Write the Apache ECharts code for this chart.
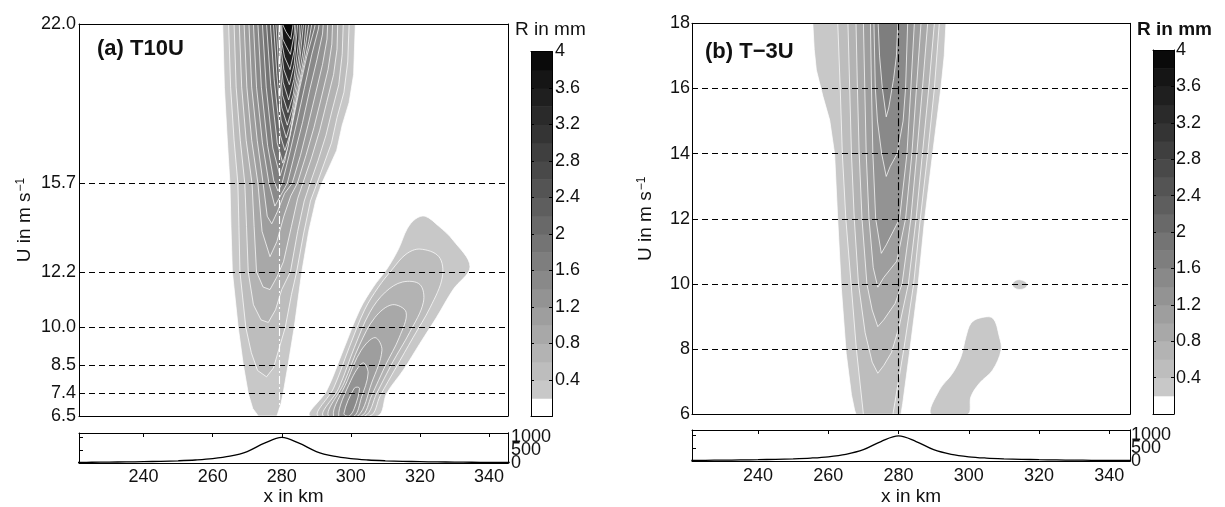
<!DOCTYPE html>
<html>
<head>
<meta charset="utf-8">
<script src="https://cdn.jsdelivr.net/npm/echarts@6/dist/echarts.min.js"></script>
<style>
  html, body { margin: 0; padding: 0; background: #ffffff; }
  #chart { width: 1225px; height: 507px; }
</style>
</head>
<body>
<div id="chart"></div>
<script>
// ---------- data ----------
const xTicks = [240, 260, 280, 300, 320, 340];
const uTicksA = [6.5, 7.4, 8.5, 10.0, 12.2, 15.7, 22.0];
const uDashedA = [6.5, 7.4, 8.5, 10.0, 12.2, 15.7];
const uDashedB = [8, 10, 12, 14, 16];
const ridgeA = 279.4;
const ridgeB = 280;
const rainLevels = [0, 0.2, 0.4, 0.6, 0.8, 1.0, 1.2, 1.4, 1.6, 1.8, 2.0, 2.2, 2.4, 2.6, 2.8, 3.0, 3.2, 3.4, 3.6, 3.8, 4.0];
const barTicks = [0.4, 0.8, 1.2, 1.6, 2, 2.4, 2.8, 3.2, 3.6, 4];
const heightTicksOuter = [0, 1000];
const heightTicksInner = [500];

// terrain profile (x in km, height in m)
const terrainX = [221, 225, 230, 235, 240, 245, 250, 255, 260, 265, 270, 275, 280, 285, 290, 295, 300, 305, 310, 315, 320, 325, 330, 335, 340, 346];
const terrainH = [22, 28, 34, 42, 52, 65, 85, 115, 165, 260, 440, 760, 980, 760, 440, 260, 165, 115, 85, 65, 52, 42, 34, 28, 24, 20];

// rain contours, (a) T10U: [lower level in mm, outline as [x km, U m/s]]
const mainCoreA = [
  [0.2, [[262.9,22],[263.4,19.5],[264.2,17.5],[265.0,15.7],[265.3,14.0],[265.7,12.2],[267.4,10.0],[268.9,8.5],[270.3,7.4],[271.6,6.8],[273.2,6.5],[278.6,6.5],[279.8,7.0],[280.4,7.4],[281.8,8.5],[283.6,10.0],[285.8,12.2],[287.8,13.8],[289.8,15.0],[291.6,15.7],[293.6,16.3],[295.9,17.0],[297.5,18.0],[299.5,18.9],[300.8,20.0],[301.3,22]]],
  [0.4, [[264.6,22],[265.2,19.5],[266.2,17.4],[267.3,15.7],[267.6,14.0],[267.9,12.2],[269.6,10.0],[271.2,9.0],[273.0,8.3],[275.6,8.05],[277.6,8.4],[279.3,9.2],[281.0,10.0],[282.8,11.3],[284.3,12.2],[286.3,13.7],[288.3,15.0],[290.2,15.7],[292.3,16.5],[294.4,17.3],[296.0,18.3],[298.0,19.3],[299.1,20.5],[299.5,22]]],
  [0.6, [[266.2,22],[266.8,19.5],[268.0,17.4],[269.3,15.7],[269.8,14.0],[270.3,12.2],[271.8,10.9],[274.0,10.3],[276.1,10.2],[278.2,10.7],[280.0,11.5],[282.5,12.2],[284.6,13.8],[286.5,15.0],[288.2,15.7],[290.5,16.6],[292.8,17.6],[294.6,18.6],[296.5,19.6],[297.5,20.8],[297.8,22]]],
  [0.8, [[267.7,22],[268.4,19.5],[269.7,17.4],[271.4,15.7],[272.0,14.0],[272.7,12.2],[274.6,11.6],[276.6,11.5],[278.6,12.0],[280.5,12.6],[282.8,14.0],[284.6,15.1],[286.1,15.7],[288.6,16.7],[291.0,17.8],[293.0,18.9],[295.0,20.0],[296.0,21.0],[296.2,22]]],
  [1.0, [[269.1,22],[269.9,19.5],[271.3,17.4],[273.1,15.7],[274.3,13.8],[276.6,12.8],[278.6,13.4],[280.6,14.4],[282.6,15.2],[284.5,15.7],[287.0,16.8],[289.3,17.9],[291.3,19.0],[293.4,20.2],[294.5,21.2],[294.7,22]]],
  [1.2, [[270.5,22],[271.3,19.5],[272.9,17.4],[274.6,15.7],[275.8,14.4],[277.1,14.1],[278.8,14.6],[280.8,15.3],[283.0,15.7],[285.4,16.8],[287.6,18.0],[289.7,19.2],[291.8,20.4],[293.1,21.4],[293.3,22]]],
  [1.4, [[271.8,22],[272.7,19.5],[274.4,17.3],[276.3,15.7],[278.0,14.8],[279.6,15.2],[281.6,15.7],[283.8,16.9],[286.0,18.1],[288.1,19.4],[290.2,20.6],[291.8,21.6],[292.0,22]]],
  [1.6, [[273.1,22],[274.1,19.5],[275.9,17.2],[277.7,15.8],[278.9,15.4],[280.1,15.7],[282.3,16.9],[284.5,18.2],[286.6,19.5],[288.7,20.8],[290.6,21.8],[290.8,22]]],
  [1.8, [[274.4,22],[275.5,19.5],[277.4,17.1],[279.5,16.0],[280.9,16.6],[283.0,18.0],[285.1,19.4],[287.2,20.7],[289.4,21.8],[289.7,22]]],
  [2.0, [[275.6,22],[276.8,19.6],[278.7,17.3],[280.3,16.5],[281.7,17.1],[283.7,18.6],[285.8,20.0],[287.8,21.3],[288.7,22]]],
  [2.2, [[276.7,22],[277.8,19.8],[279.6,17.6],[280.9,17.0],[282.3,17.6],[284.3,19.1],[286.3,20.6],[287.8,22]]],
  [2.4, [[277.6,22],[278.6,20.0],[279.8,18.2],[281.3,17.5],[282.8,18.2],[284.7,19.7],[286.5,21.2],[287.0,22]]],
  [2.6, [[278.3,22],[279.2,20.2],[280.0,18.7],[281.6,18.0],[283.1,18.7],[285.0,20.3],[286.3,22]]],
  [2.8, [[278.9,22],[279.5,20.4],[280.2,19.2],[281.8,18.5],[283.3,19.2],[285.0,20.8],[285.7,22]]],
  [3.0, [[279.3,22],[279.7,20.6],[280.4,19.7],[282.0,19.0],[283.5,19.8],[285.0,21.4],[285.1,22]]],
  [3.2, [[279.6,22],[279.9,20.9],[280.6,20.2],[282.2,19.6],[283.6,20.4],[284.6,22]]],
  [3.4, [[279.8,22],[280.1,21.2],[280.8,20.7],[282.4,20.2],[283.7,21.0],[284.1,22]]],
  [3.6, [[280.0,22],[280.3,21.4],[281.0,21.2],[282.5,20.8],[283.6,21.6],[283.7,22]]],
  [3.8, [[280.2,22],[281.2,21.7],[282.6,21.4],[283.3,22]]]
];
const lowerCellA = [
  [0.2, [[288.2,6.5],[293.0,7.5],[297.8,9.1],[302.6,10.7],[306.5,11.6],[310.4,12.3],[313.8,13.1],[316.3,13.9],[318.8,14.3],[321.5,14.4],[325.5,14.0],[329.6,13.45],[334.5,12.4],[329.6,11.5],[324.8,10.4],[320.0,9.37],[315.2,8.32],[310.4,7.4],[307.7,6.5]]],
  [0.4, [[290.5,6.5],[295.0,7.6],[299.5,9.2],[304.0,10.7],[308.0,11.6],[312.0,12.3],[316.0,12.9],[320.0,13.1],[325.5,12.8],[326.5,12.0],[323.0,10.8],[318.0,9.6],[313.0,8.4],[308.5,7.3],[305.5,6.5]]],
  [0.6, [[292.0,6.5],[296.5,7.6],[301.0,9.2],[305.5,10.6],[310.0,11.4],[315.0,11.8],[320.0,11.7],[321.0,11.0],[317.0,9.8],[312.0,8.6],[307.5,7.4],[304.0,6.5]]],
  [0.8, [[293.5,6.5],[298.0,7.8],[302.5,9.3],[307.0,10.4],[312.0,10.9],[316.0,10.6],[314.0,9.6],[310.0,8.5],[306.0,7.3],[303.0,6.5]]],
  [1.0, [[295.0,6.5],[299.0,7.9],[303.0,9.1],[307.0,9.6],[309.0,9.1],[306.0,7.8],[302.0,6.5]]],
  [1.2, [[296.5,6.5],[300.0,7.9],[303.5,8.6],[305.0,8.2],[303.0,7.2],[301.0,6.5]]],
  [1.4, [[298.0,6.6],[301.0,7.6],[302.5,7.6],[301.0,6.8],[299.5,6.5]]]
];

// rain contours, (b) T-3U
const mainCoreB = [
  [0.2, [[255.6,18],[256.0,17.2],[256.6,16.57],[258.5,15.75],[260.4,15.03],[261.8,14.0],[262.7,11.96],[263.7,9.9],[265.1,7.87],[266.6,6.6],[267.5,6.13],[267.9,6],[280.7,6],[281.2,6.34],[283.1,7.87],[285.5,9.9],[287.4,11.96],[289.7,14.0],[292.1,16.05],[293.0,17.0],[293.5,18]]],
  [0.4, [[262.7,18],[263.4,16],[264.0,14],[265.0,12],[266.5,10],[268.0,8],[270.0,6],[278.4,6],[281.5,8],[284.3,10],[286.2,12],[288.3,14],[290.2,16],[291.6,18]]],
  [0.6, [[265.6,18],[266.1,16],[266.6,14],[267.4,12],[268.6,10],[270.5,8.5],[272.5,7.6],[274.1,7.26],[275.8,7.5],[278.0,7.9],[280.2,8.7],[282.8,10],[285.0,12],[286.8,14],[288.6,16],[290.2,18]]],
  [0.8, [[267.9,18],[268.3,16],[268.8,14],[269.6,12],[271.0,10],[272.5,9.2],[274.1,8.69],[275.8,8.9],[279.0,9.4],[281.0,10],[283.5,12],[285.2,14],[286.8,16],[288.3,18]]],
  [1.0, [[270.0,18],[270.4,16],[270.8,14],[271.6,12],[272.8,10.5],[274.1,9.9],[275.8,10.2],[279.5,10.7],[282.0,12],[283.8,14],[285.1,16],[286.4,18]]],
  [1.2, [[272.0,18],[272.3,16],[272.7,14],[273.5,12],[275.1,10.94],[276.5,11.2],[280.3,12],[282.4,14],[283.5,16],[284.5,18]]],
  [1.4, [[273.0,18],[273.4,16],[274.0,15],[275.2,14],[276.5,13.3],[277.6,13.6],[279.6,14],[281.3,15],[282.0,16],[282.6,18]]],
  [1.6, [[274.2,18],[274.6,17],[275.4,16],[276.5,15.13],[277.2,15.4],[278.6,16.3],[279.4,17],[279.8,18]]]
];
const lowerCellB = [
  [0.2, [[289.3,6],[291.6,6.74],[295.4,7.26],[297.8,7.77],[299.2,8.38],[300.6,8.79],[303.0,8.95],[306.8,8.95],[308.7,8.38],[309.2,7.97],[306.8,7.36],[303.0,6.95],[300.6,6.54],[299.7,6]]]
];
const smallCellB = [
  [0.2, [[312.4,9.98],[313.2,10.1],[314.5,10.13],[315.9,10.08],[316.7,9.97],[315.8,9.86],[314.4,9.83],[313.1,9.87]]]
];

// ---------- styling helpers ----------
const FONT = 'Liberation Sans';
const INK = '#111111';
const xRangeA = [221.3, 345.5];
const xRangeB = [221.2, 345.9];

function shade(lo) {
  if (lo < 0.19) return '#ffffff';
  const g = Math.max(0, Math.round(200 - (lo - 0.2) / 3.6 * 190));
  return 'rgb(' + g + ',' + g + ',' + g + ')';
}

const labelStyle = { fontFamily: FONT, fontSize: 18, color: INK };
const lineBlack = { show: true, lineStyle: { color: '#000', width: 1 } };

function frameX(grid, pos, min, max, extra) {
  return Object.assign({
    type: 'value', gridIndex: grid, position: pos, min: min, max: max, z: 10,
    axisLine: Object.assign({ onZero: false }, lineBlack),
    axisTick: { show: false }, axisLabel: { show: false }, splitLine: { show: false }
  }, extra || {});
}
function frameY(grid, pos, min, max, extra) {
  return Object.assign({
    type: 'value', gridIndex: grid, position: pos, min: min, max: max, z: 10,
    axisLine: Object.assign({ onZero: false }, lineBlack),
    axisTick: { show: false }, axisLabel: { show: false }, splitLine: { show: false }
  }, extra || {});
}

// filled rain bands; each outline is filled with the grey of its level
// and edged with a thin white contour line
function contourSeries(polys, xi, yi, smooth) {
  const sorted = polys.slice().sort((a, b) => a[0] - b[0]);
  return {
    type: 'custom', xAxisIndex: xi, yAxisIndex: yi, silent: true, clip: true, z: 2,
    data: sorted.map(p => p[1][0]),
    renderItem: function (params, api) {
      const c = sorted[params.dataIndex];
      const pts = c[1].map(p => api.coord(p));
      return {
        type: 'polygon',
        shape: { points: pts, smooth: smooth || 0 },
        style: { fill: shade(c[0]), stroke: 'rgba(255,255,255,0.9)', lineWidth: 0.8 }
      };
    }
  };
}

function barSeries(xi, yi) {
  return {
    type: 'custom', xAxisIndex: xi, yAxisIndex: yi, silent: true, z: 2,
    data: rainLevels.slice(0, -1).map(lo => [0.5, lo]),
    renderItem: function (params, api) {
      const lo = rainLevels[params.dataIndex];
      const hi = rainLevels[params.dataIndex + 1];
      const p0 = api.coord([0, hi]);
      const p1 = api.coord([1, lo]);
      return {
        type: 'rect',
        shape: { x: p0[0], y: p0[1], width: p1[0] - p0[0], height: p1[1] - p0[1] + 0.5 },
        style: { fill: shade(lo) }
      };
    }
  };
}

function guideSeries(xi, yi, levels, ridge, ridgeColor) {
  return {
    type: 'line', xAxisIndex: xi, yAxisIndex: yi, data: [], silent: true, z: 5,
    markLine: {
      silent: true, symbol: 'none', animation: false,
      label: { show: false },
      lineStyle: { color: '#000', type: [6, 4], width: 1.2 },
      data: levels.map(v => ({ yAxis: v })).concat([{
        xAxis: ridge,
        lineStyle: { color: ridgeColor, type: [8, 3, 2, 3], width: 1.1 }
      }])
    }
  };
}

function terrainSeries(xi, yi) {
  return {
    type: 'line', xAxisIndex: xi, yAxisIndex: yi, silent: true, smooth: 0.35,
    symbol: 'none', lineStyle: { color: '#000', width: 1.3 },
    data: terrainX.map((x, i) => [x, terrainH[i]])
  };
}

const uName = {
  name: 'U in m s{sup|\u22121}', nameLocation: 'middle',
  nameTextStyle: {
    fontFamily: FONT, fontSize: 19, color: INK,
    rich: { sup: { fontFamily: FONT, fontSize: 12, color: INK, verticalAlign: 'top', padding: [0, 0, 6, 1] } }
  }
};

// the three height labels are packed tighter than their glyph height, so
// the middle one lives on its own axis to keep all of them visible
function heightLabels(values, margin) {
  return Object.assign({
    show: true, customValues: values, hideOverlap: false,
    showMinLabel: true, showMaxLabel: true, margin: margin,
    formatter: v => String(v)
  }, labelStyle);
}

// panel geometry
const grids = [
  { left: 79, top: 24, width: 429, height: 392 },      // (a) rain
  { left: 79, top: 433, width: 429, height: 34 },      // (a) terrain
  { left: 531, top: 51.5, width: 21, height: 365 },    // (a) colour bar
  { left: 692, top: 23.3, width: 438, height: 391 },   // (b) rain
  { left: 692, top: 430, width: 438, height: 32 },     // (b) terrain
  { left: 1153, top: 50, width: 21, height: 364 }      // (b) colour bar
];

const xAxes = [
  frameX(0, 'bottom', xRangeA[0], xRangeA[1]),
  frameX(0, 'top', xRangeA[0], xRangeA[1]),
  frameX(1, 'bottom', xRangeA[0], xRangeA[1], {
    axisLabel: Object.assign({ show: true, customValues: xTicks, margin: 5 }, labelStyle),
    name: 'x in km', nameLocation: 'middle', nameGap: 24,
    nameTextStyle: { fontFamily: FONT, fontSize: 19, color: INK }
  }),
  frameX(1, 'top', xRangeA[0], xRangeA[1], {
    axisTick: { show: true, inside: true, length: 4, customValues: xTicks, lineStyle: { color: '#000' } }
  }),
  frameX(2, 'bottom', 0, 1),
  frameX(2, 'top', 0, 1),

  frameX(3, 'bottom', xRangeB[0], xRangeB[1]),
  frameX(3, 'top', xRangeB[0], xRangeB[1]),
  frameX(4, 'bottom', xRangeB[0], xRangeB[1], {
    axisLabel: Object.assign({ show: true, customValues: xTicks, margin: 6 }, labelStyle),
    name: 'x in km', nameLocation: 'middle', nameGap: 26,
    nameTextStyle: { fontFamily: FONT, fontSize: 19, color: INK }
  }),
  frameX(4, 'top', xRangeB[0], xRangeB[1], {
    axisTick: { show: true, inside: true, length: 4, customValues: xTicks, lineStyle: { color: '#000' } }
  }),
  frameX(5, 'bottom', 0, 1),
  frameX(5, 'top', 0, 1)
];

const yAxes = [
  frameY(0, 'left', 6.5, 22, Object.assign({
    axisLabel: Object.assign({ show: true, customValues: uTicksA, margin: 3, formatter: v => Number(v).toFixed(1) }, labelStyle),
    nameGap: 45
  }, uName)),
  frameY(0, 'right', 6.5, 22),
  frameY(1, 'left', 0, 1150, {
    axisTick: { show: true, inside: true, length: 4, customValues: [500, 1000], lineStyle: { color: '#000' } }
  }),
  frameY(1, 'right', 0, 1150, { axisLabel: heightLabels(heightTicksOuter, 3) }),
  frameY(2, 'left', 0, 4, {
    axisTick: { show: true, inside: true, length: 3, customValues: barTicks, lineStyle: { color: '#000' } }
  }),
  frameY(2, 'right', 0, 4, {
    axisTick: { show: true, inside: true, length: 3, customValues: barTicks, lineStyle: { color: '#000' } },
    axisLabel: Object.assign({ show: true, customValues: barTicks, margin: 3, formatter: v => String(+Number(v).toFixed(1)) }, labelStyle)
  }),

  frameY(3, 'left', 6, 18, Object.assign({
    interval: 2,
    axisLabel: Object.assign({ show: true, margin: 2 }, labelStyle),
    nameGap: 37
  }, uName)),
  frameY(3, 'right', 6, 18),
  frameY(4, 'left', 0, 1210, {
    axisTick: { show: true, inside: true, length: 4, customValues: [500, 1000], lineStyle: { color: '#000' } }
  }),
  frameY(4, 'right', 0, 1210, { axisLabel: heightLabels(heightTicksOuter, 1) }),
  frameY(5, 'left', 0, 4, {
    axisTick: { show: true, inside: true, length: 3, customValues: barTicks, lineStyle: { color: '#000' } }
  }),
  frameY(5, 'right', 0, 4, {
    axisTick: { show: true, inside: true, length: 3, customValues: barTicks, lineStyle: { color: '#000' } },
    axisLabel: Object.assign({ show: true, customValues: barTicks, margin: 2, formatter: v => String(+Number(v).toFixed(1)) }, labelStyle)
  }),

  // middle height labels of both terrain panels
  frameY(1, 'right', 0, 1150, { axisLabel: heightLabels(heightTicksInner, 3) }),
  frameY(4, 'right', 0, 1210, { axisLabel: heightLabels(heightTicksInner, 1) })
];

const series = [
  contourSeries(mainCoreA, 0, 0, 0),
  contourSeries(lowerCellA, 0, 0, 0.35),
  guideSeries(0, 0, uDashedA, ridgeA, '#ffffff'),
  terrainSeries(2, 2),
  barSeries(4, 4),
  contourSeries(mainCoreB, 6, 6, 0),
  contourSeries(lowerCellB.concat(smallCellB), 6, 6, 0.35),
  guideSeries(6, 6, uDashedB, ridgeB, '#000000'),
  terrainSeries(8, 8),
  barSeries(10, 10)
];

const graphic = [
  { type: 'text', left: 97, top: 38, z: 20, style: { text: '(a) T10U', font: 'bold 22px "Liberation Sans"', fill: INK } },
  { type: 'text', left: 705, top: 41, z: 20, style: { text: '(b) T\u22123U', font: 'bold 22px "Liberation Sans"', fill: INK } },
  { type: 'text', left: 515, top: 20, z: 20, style: { text: 'R in mm', font: '19px "Liberation Sans"', fill: INK } },
  { type: 'text', left: 1137, top: 20, z: 20, style: { text: 'R in mm', font: 'bold 19px "Liberation Sans"', fill: INK } }
];

const chart = echarts.init(document.getElementById('chart'), null, { renderer: 'canvas' });
chart.setOption({
  animation: false,
  backgroundColor: '#ffffff',
  grid: grids,
  xAxis: xAxes,
  yAxis: yAxes,
  series: series,
  graphic: graphic
});
</script>
</body>
</html>
